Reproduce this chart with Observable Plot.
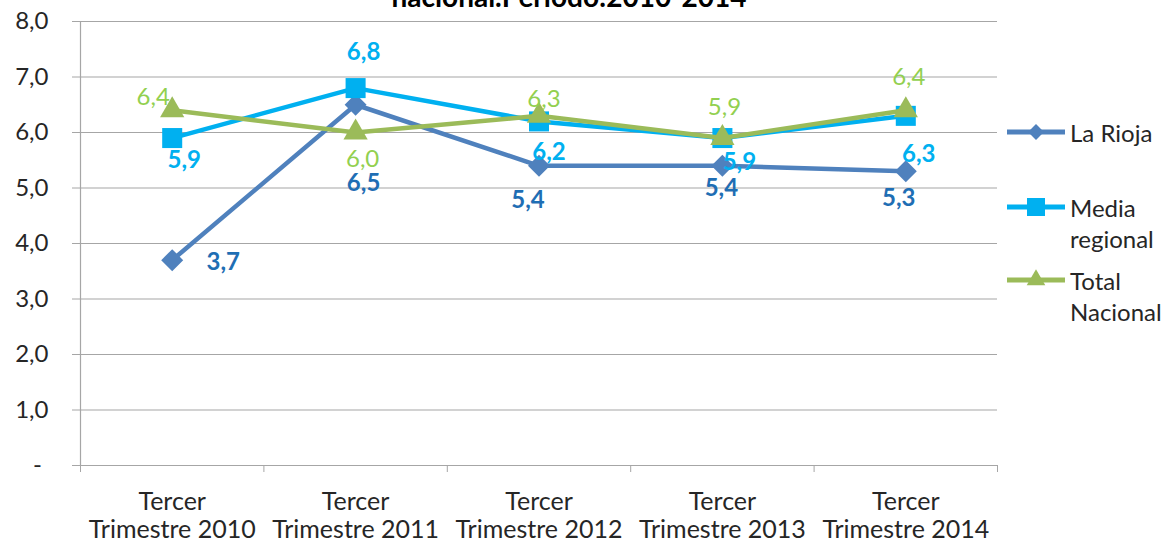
<!DOCTYPE html>
<html>
<head>
<meta charset="utf-8">
<script src="https://cdn.jsdelivr.net/npm/d3@7"></script>
<script src="https://cdn.jsdelivr.net/npm/@observablehq/plot@0.6"></script>
<style>
  body { margin: 0; background: #fff; }
  #wrap { position: relative; width: 1175px; height: 549px; overflow: hidden; font-family: Lato, "Open Sans", sans-serif; }
  #wrap svg.plot { position: absolute; left: 0; top: 0; }
  .leg { position: absolute; left: 1070px; font-size: 24px; line-height: 31px; color: #262626; }
  .sw { position: absolute; left: 1007px; }
</style>
</head>
<body>
<div id="wrap"></div>
<script>
// ---- data ----
const title = "nacional.Periodo:2010-2014";
const categories = [
  "Tercer\nTrimestre 2010",
  "Tercer\nTrimestre 2011",
  "Tercer\nTrimestre 2012",
  "Tercer\nTrimestre 2013",
  "Tercer\nTrimestre 2014"
];
const seriesNames = ["La Rioja", "Media regional", "Total Nacional"];
const laRioja       = [3.7, 6.5, 5.4, 5.4, 5.3];
const mediaRegional = [5.9, 6.8, 6.2, 5.9, 6.3];
const totalNacional = [6.4, 6.0, 6.3, 5.9, 6.4];
const yTicks = [0, 1, 2, 3, 4, 5, 6, 7, 8];

// ---- styling ----
const seriesValues = [laRioja, mediaRegional, totalNacional];
const lineColors  = ["#4F81BD", "#00B0F0", "#9BBB59"];
const labelColors = ["#1F6EB4", "#00B0F0", "#92D050"];
const labelWeights = ["bold", "bold", "normal"];
const symbols = ["diamond2", "square", "triangle"];
const radii = [9.9, 11.3, 9];
// label offsets (px) relative to each point
const labelOffsets = [
  [[51, 2], [8, 79], [-11, 35], [-1, 23], [-7, 27]],
  [[12, 22], [8, -36], [10, 31], [17, 24], [13, 38]],
  [[-19, -13], [7, 27], [5, -17], [2, -31], [3, -33]]
];
const gridColor = "#a6a6a6";
const textColor = "#262626";
const font = "Lato, 'Open Sans', sans-serif";

const fmtY = d => d === 0 ? "-\u2008\u200A" : d.toFixed(1).replace(".", ",");

const tables = seriesNames.map((s, k) => seriesValues[k].map((v, i) => ({series: s, i, value: v})));

const marks = [
  Plot.ruleY(yTicks.filter(t => t > 0), {stroke: gridColor, strokeWidth: 1.2}),
  Plot.axisY({ticks: yTicks, tickSize: 8, tickPadding: 24, tickFormat: fmtY,
    stroke: gridColor, fill: textColor, fontSize: 24, label: null}),
  Plot.ruleX([-0.5], {stroke: gridColor, strokeWidth: 1.2}),
  Plot.ruleY([0], {stroke: gridColor, strokeWidth: 1.2}),
  Plot.axisX({ticks: d3.range(-0.5, categories.length, 1), tickSize: 7, tickFormat: () => "",
    stroke: gridColor, label: null}),
  Plot.axisX({ticks: d3.range(categories.length), tickSize: 0, tickPadding: 25,
    tickFormat: i => categories[i], fill: textColor, fontSize: 25, lineHeight: 1.12, label: null})
];

tables.forEach((t, k) => {
  marks.push(Plot.line(t, {x: "i", y: "value", stroke: lineColors[k], strokeWidth: 4.5}));
  marks.push(Plot.dot(t, {x: "i", y: "value", symbol: symbols[k], r: radii[k], fill: lineColors[k], stroke: "none"}));
});
tables.forEach((t, k) => {
  t.forEach((d, i) => {
    const [dx, dy] = labelOffsets[k][i];
    marks.push(Plot.text([d], {x: "i", y: "value", text: e => e.value.toFixed(1).replace(".", ","),
      dx, dy, fill: labelColors[k], fontWeight: labelWeights[k], fontSize: 24}));
  });
});
marks.push(Plot.text([title], {frameAnchor: "top", lineAnchor: "top", dx: 30, dy: -34, fontWeight: "bold", fontSize: 28, fill: "#000"}));

const chart = Plot.plot({
  width: 1175, height: 549,
  marginLeft: 80, marginRight: 178, marginTop: 21, marginBottom: 84,
  x: {domain: [-0.5, categories.length - 0.5]},
  y: {domain: [0, 8]},
  style: {fontFamily: font, fontSize: "24px", color: textColor, background: "#fff", overflow: "visible"},
  marks
});
const wrap = document.getElementById("wrap");
wrap.appendChild(chart);

// ---- legend ----
const legendRows = [
  {lines: ["La Rioja"], center: 132},
  {lines: ["Media", "regional"], center: 207},
  {lines: ["Total", "Nacional"], center: 280}
];
const legSizes = [160, 324, 150];
const legSym = [d3.symbolDiamond2, d3.symbolSquare, d3.symbolTriangle];
legendRows.forEach((row, k) => {
  const sw = d3.select(wrap).append("svg").attr("class", "sw")
    .attr("width", 58).attr("height", 24).style("top", (row.center - 12) + "px");
  sw.append("line").attr("x1", 0).attr("x2", 58).attr("y1", 12).attr("y2", 12)
    .attr("stroke", lineColors[k]).attr("stroke-width", 5);
  sw.append("path").attr("d", d3.symbol(legSym[k], legSizes[k])()).attr("transform", "translate(29,12)")
    .attr("fill", lineColors[k]);
  const div = d3.select(wrap).append("div").attr("class", "leg")
    .style("top", (row.center - 15.5) + "px")
    .attr("data-series", seriesNames[k]);
  div.html(row.lines.join("<br>"));
});
</script>
</body>
</html>
